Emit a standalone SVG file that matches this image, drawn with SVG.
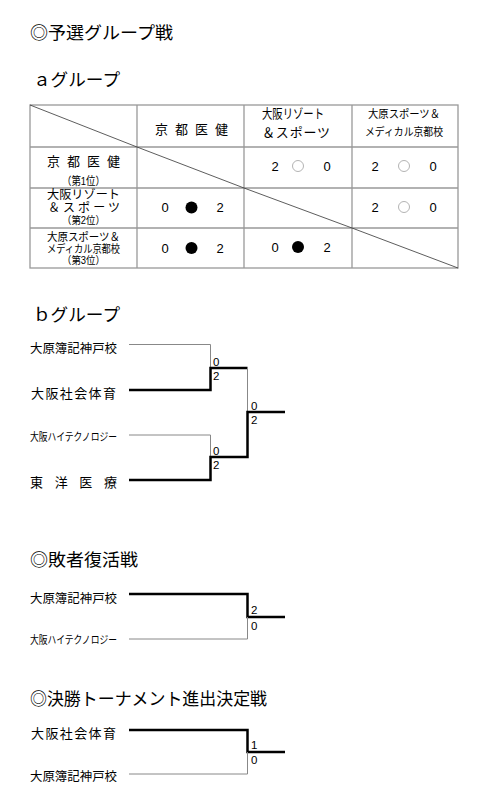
<svg xmlns="http://www.w3.org/2000/svg" width="490" height="805" viewBox="0 0 490 805">
<style>
text{font-family:"Liberation Sans","Noto Sans CJK JP",sans-serif;fill:#000}
.h{font-size:17.5px}
.t{font-size:12.5px}
.m{font-size:12px}
.s{font-size:11px}
.r{font-size:10.5px}
.d{font-size:13px}
.n{font-size:11.5px}
.grid{stroke:#999;stroke-width:1.3;fill:none}
.diag{stroke:#333;stroke-width:0.8;fill:none}
.thin{stroke:#888;stroke-width:1;fill:none}
.thick{stroke:#000;stroke-width:2.5;fill:none}
.win{fill:#fff;stroke:#aaa;stroke-width:0.9}
.lose{fill:#000}
</style>
<rect width="490" height="805" fill="#fff"/>

<g id="titles">
<text class="h" x="30" y="39" textLength="143" lengthAdjust="spacingAndGlyphs">◎予選グループ戦</text>
<text class="h" x="33" y="86" textLength="87" lengthAdjust="spacingAndGlyphs">ａグループ</text>
<text class="h" x="33" y="321" textLength="87" lengthAdjust="spacingAndGlyphs">ｂグループ</text>
<text class="h" x="30" y="566" textLength="108" lengthAdjust="spacingAndGlyphs">◎敗者復活戦</text>
<text class="h" x="30" y="705" textLength="237" lengthAdjust="spacingAndGlyphs">◎決勝トーナメント進出決定戦</text>
</g>

<g id="table-a">
<rect class="grid" x="30" y="105" width="428" height="163"/>
<line class="grid" x1="137" y1="105" x2="137" y2="268"/>
<line class="grid" x1="244" y1="105" x2="244" y2="268"/>
<line class="grid" x1="352" y1="105" x2="352" y2="268"/>
<line class="grid" x1="30" y1="147" x2="458" y2="147"/>
<line class="grid" x1="30" y1="188" x2="458" y2="188"/>
<line class="grid" x1="30" y1="228" x2="458" y2="228"/>
<line class="diag" x1="30" y1="105" x2="137" y2="147"/>
<line class="diag" x1="137" y1="147" x2="244" y2="188"/>
<line class="diag" x1="244" y1="188" x2="352" y2="228"/>
<line class="diag" x1="352" y1="228" x2="458" y2="268"/>
</g>

<g id="header">
<text class="d" x="155" y="134" textLength="73" lengthAdjust="spacing">京 都 医 健</text>
<text class="d" x="262" y="118" textLength="62" lengthAdjust="spacingAndGlyphs">大阪リゾート</text>
<text class="d" x="262" y="136.5" textLength="68" lengthAdjust="spacing">＆スポーツ</text>
<text class="s" x="368" y="118" textLength="72" lengthAdjust="spacingAndGlyphs">大原スポーツ＆</text>
<text class="s" x="365" y="136" textLength="78" lengthAdjust="spacingAndGlyphs">メディカル京都校</text>
</g>

<g id="row-1">
<text class="d" x="47" y="166" textLength="73" lengthAdjust="spacing">京 都 医 健</text>
<text class="s" x="62" y="185" textLength="43" lengthAdjust="spacingAndGlyphs">（第1位）</text>
<text class="d" x="275" y="171" text-anchor="middle">2</text>
<circle class="win" cx="298" cy="166" r="5.5"/>
<text class="d" x="327" y="171" text-anchor="middle">0</text>
<text class="d" x="375" y="171" text-anchor="middle">2</text>
<circle class="win" cx="404" cy="166" r="5.5"/>
<text class="d" x="433" y="171" text-anchor="middle">0</text>
</g>

<g id="row-2">
<text class="m" x="47" y="199" textLength="73" lengthAdjust="spacingAndGlyphs">大阪リゾート</text>
<text class="m" x="48" y="211.5" textLength="72" lengthAdjust="spacing">＆スポーツ</text>
<text class="r" x="62" y="224" textLength="43" lengthAdjust="spacingAndGlyphs">（第2位）</text>
<text class="d" x="165" y="212" text-anchor="middle">0</text>
<circle class="lose" cx="191.5" cy="207.5" r="6"/>
<text class="d" x="220" y="212" text-anchor="middle">2</text>
<text class="d" x="375" y="212" text-anchor="middle">2</text>
<circle class="win" cx="404" cy="207" r="5.5"/>
<text class="d" x="433" y="212" text-anchor="middle">0</text>
</g>

<g id="row-3">
<text class="s" x="47" y="240.5" textLength="73" lengthAdjust="spacingAndGlyphs">大原スポーツ＆</text>
<text class="s" x="47" y="252.5" textLength="73" lengthAdjust="spacingAndGlyphs">メディカル京都校</text>
<text class="r" x="62" y="264" textLength="43" lengthAdjust="spacingAndGlyphs">（第3位）</text>
<text class="d" x="165" y="253" text-anchor="middle">0</text>
<circle class="lose" cx="191.5" cy="248" r="6"/>
<text class="d" x="220" y="253" text-anchor="middle">2</text>
<text class="d" x="275" y="252" text-anchor="middle">0</text>
<circle class="lose" cx="298" cy="247" r="6"/>
<text class="d" x="327" y="252" text-anchor="middle">2</text>
</g>

<g id="b-teams">
<text class="t" x="30" y="353" textLength="87" lengthAdjust="spacingAndGlyphs">大原簿記神戸校</text>
<text class="d" x="31" y="398" textLength="85" lengthAdjust="spacing">大阪社会体育</text>
<text class="s" x="30" y="441" textLength="87" lengthAdjust="spacingAndGlyphs">大阪ハイテクノロジー</text>
<text class="d" x="30" y="487" textLength="87" lengthAdjust="spacing">東 洋 医 療</text>
</g>

<g id="loser-teams">
<text class="t" x="30" y="603" textLength="87" lengthAdjust="spacingAndGlyphs">大原簿記神戸校</text>
<text class="s" x="30" y="644" textLength="87" lengthAdjust="spacingAndGlyphs">大阪ハイテクノロジー</text>
</g>

<g id="final-teams">
<text class="d" x="31" y="738" textLength="85" lengthAdjust="spacing">大阪社会体育</text>
<text class="t" x="30" y="781" textLength="87" lengthAdjust="spacingAndGlyphs">大原簿記神戸校</text>
</g>

<g id="connectors">
<polyline class="thin" points="129,344.5 210.5,344.5 210.5,368"/>
<polyline class="thick" points="129,390 210.5,390 210.5,368 247.5,368"/>
<polyline class="thin" points="247.5,368 247.5,412"/>
<polyline class="thin" points="129,435 210.5,435 210.5,457"/>
<polyline class="thick" points="129,480 210.5,480 210.5,457 247.5,457 247.5,412 285,412"/>
<polyline class="thick" points="129,594 247.5,594 247.5,617 285,617"/>
<polyline class="thin" points="129,639 247.5,639 247.5,617"/>
<polyline class="thick" points="129,730 247.5,730 247.5,752 285,752"/>
<polyline class="thin" points="129,774 247.5,774 247.5,752"/>
</g>

<g id="scores">
<text class="n" x="213" y="366">0</text>
<text class="n" x="213" y="380">2</text>
<text class="n" x="251" y="410">0</text>
<text class="n" x="251" y="424">2</text>
<text class="n" x="213" y="455">0</text>
<text class="n" x="213" y="469">2</text>
<text class="n" x="251" y="614">2</text>
<text class="n" x="251" y="630">0</text>
<text class="n" x="251" y="749">1</text>
<text class="n" x="251" y="764">0</text>
</g>
</svg>
